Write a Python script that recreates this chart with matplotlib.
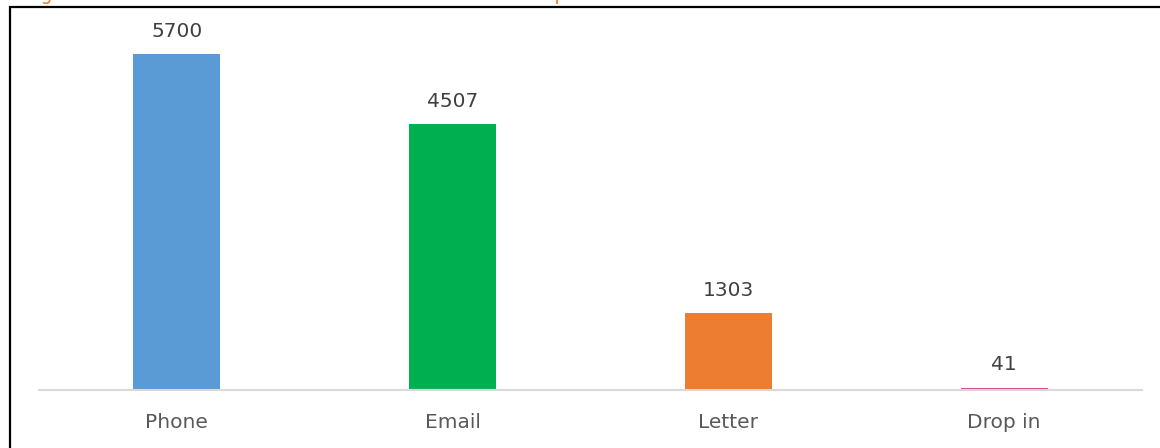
import matplotlib.pyplot as plt
from matplotlib.patches import Rectangle

categories = ['Phone', 'Email', 'Letter', 'Drop in']
counts = [5700, 4507, 1303, 41]
bar_colors = ['#5B9BD5', '#00B050', '#ED7D31', '#D64F9B']

W, H = 1160, 448
fig = plt.figure(figsize=(W / 100, H / 100), dpi=100)

# axes placed in pixel terms: x 39..1142, baseline at y=390 (from top)
px_per_unit = 336 / 5700
top_px = 20
ax = fig.add_axes([39 / W, (H - 390) / H, (1142 - 39) / W, (390 - top_px) / H])

x = range(len(categories))
bars = ax.bar(x, counts, width=0.316, color=bar_colors)
ax.set_xlim(-0.5, len(categories) - 0.5)
ax.set_ylim(0, (390 - top_px) / px_per_unit)

for rect, v in zip(bars, counts):
    ax.annotate(str(v), (rect.get_x() + rect.get_width() / 2, v),
                xytext=(0, 9.5), textcoords='offset points',
                ha='center', va='bottom', fontsize=14.5, color='#404040')

ax.set_xticks(list(x))
ax.set_xticklabels(categories, fontsize=14.5, color='#595959')
ax.tick_params(axis='x', length=0, pad=16.5)
ax.set_yticks([])
for s in ['top', 'right', 'left']:
    ax.spines[s].set_visible(False)
ax.spines['bottom'].set_color('#D9D9D9')
ax.spines['bottom'].set_linewidth(1.5)

# chart border (runs off the right and bottom of the crop)
fig.patches.append(Rectangle((9.5 / W, -0.1), 1.2, 1.1 - 7.5 / H,
                             transform=fig.transFigure, fill=False,
                             edgecolor='black', linewidth=1.6))

# heading above, mostly cropped off like in the source
fig.text(26 / W, 1 + 0.5 / H, 'Figure 1: Number of contacts received in 2018 from the public',
         ha='left', va='baseline', fontsize=13.5, color='#ED7D31')

fig.savefig('out.png', dpi=100)
